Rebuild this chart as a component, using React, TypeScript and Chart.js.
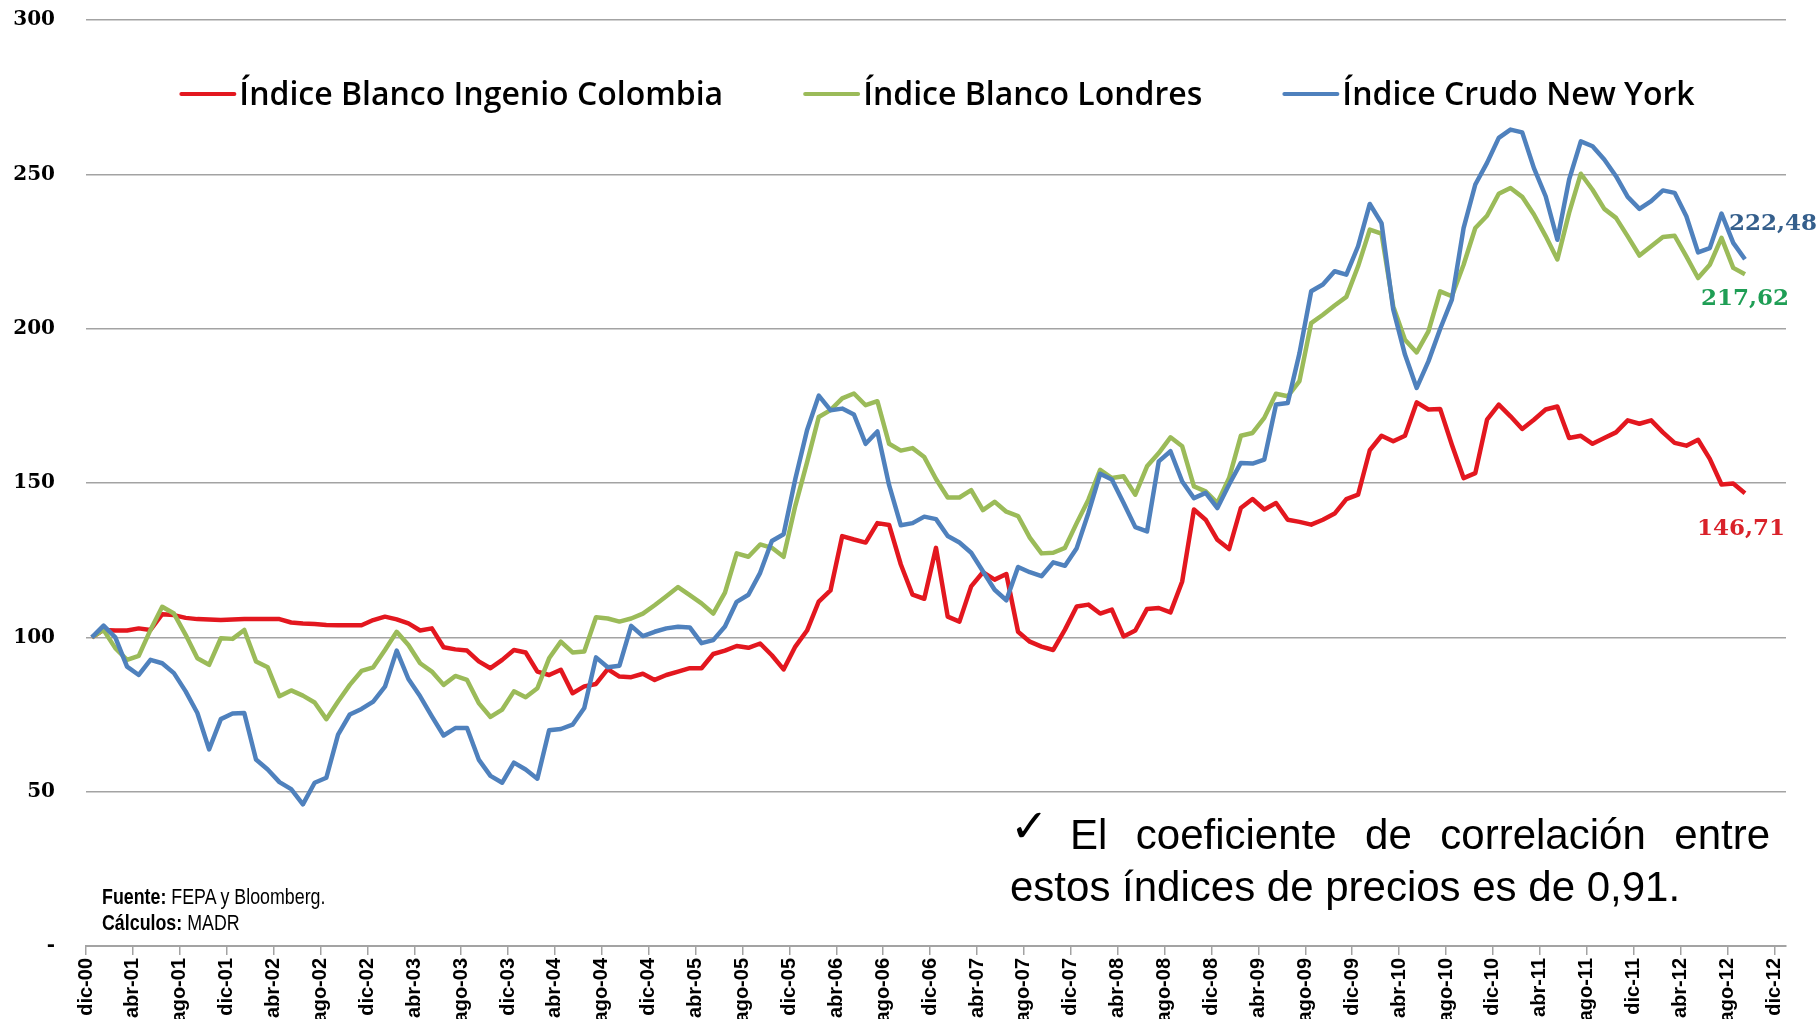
import React, { useEffect, useRef } from "react";
import { Chart, registerables } from "chart.js";

Chart.register(...registerables);

// Tick labels (every 4 months, from dic-00 to dic-12)
const tickLabels = [
  "dic-00", "abr-01", "ago-01", "dic-01", "abr-02", "ago-02", "dic-02", "abr-03", "ago-03", "dic-03",
  "abr-04", "ago-04", "dic-04", "abr-05", "ago-05", "dic-05", "abr-06", "ago-06", "dic-06", "abr-07",
  "ago-07", "dic-07", "abr-08", "ago-08", "dic-08", "abr-09", "ago-09", "dic-09", "abr-10", "ago-10",
  "dic-10", "abr-11", "ago-11", "dic-11", "abr-12", "ago-12", "dic-12",
];
const monthsPerTick = 4;

const seriesNames = [
  "Índice Blanco Ingenio Colombia",
  "Índice Blanco Londres",
  "Índice Crudo New York",
];

// Monthly values from dic-00 to sep-12
const ingenioColombia = [
  100, 102.4, 102.2, 102.2, 102.9, 102.4, 107.5, 107.2, 106.3, 105.9,
  105.8, 105.6, 105.8, 105.9, 105.9, 105.9, 105.9, 104.8, 104.5, 104.3,
  104, 103.9, 103.9, 103.9, 105.6, 106.7, 105.8, 104.5, 102.2, 102.9,
  96.8, 96.1, 95.7, 92.2, 90, 92.7, 95.9, 95.1, 88.9, 87.8,
  89.5, 81.9, 84.1, 84.9, 89.7, 87.3, 87.1, 88.2, 86.2, 87.8,
  88.9, 90, 90, 94.6, 95.7, 97.2, 96.6, 98, 94.2, 89.6,
  97, 102.2, 111.6, 115.2, 132.8, 131.7, 130.7, 137, 136.4, 123.6,
  113.8, 112.5, 129, 106.7, 105.1, 116.5, 121.1, 118.7, 120.5, 101.8,
  98.6, 97, 95.9, 102.5, 110, 110.6, 107.7, 109, 100.3, 102.2,
  109.2, 109.5, 108.1, 118.1, 141.4, 138.1, 131.6, 128.6, 141.9, 144.8,
  141.4, 143.5, 138.1, 137.4, 136.5, 138.1, 140.1, 144.8, 146.2, 160.6,
  165.3, 163.5, 165.3, 176.1, 173.8, 174, 162.4, 151.6, 153.2, 170.5,
  175.4, 171.6, 167.5, 170.5, 173.8, 174.8, 164.6, 165.3, 162.7, 164.6,
  166.4, 170.3, 169.2, 170.3, 166.4, 163, 162.1, 164, 157.8, 149.5,
  149.8, 146.71,
];

const blancoLondres = [
  100, 102.4, 96.5, 92.7, 94, 102.4, 109.9, 107.7, 100.8, 93.2,
  91.1, 99.7, 99.5, 102.4, 92.2, 90.3, 80.9, 82.8, 81.1, 78.9,
  73.5, 79.2, 84.6, 89.1, 90.3, 95.9, 101.8, 97.5, 91.6, 88.9,
  84.6, 87.5, 86.2, 78.7, 74.2, 76.6, 82.5, 80.6, 83.5, 93.2,
  98.6, 95.1, 95.4, 106.5, 106.1, 105.1, 106.1, 107.7, 110.4, 113.3,
  116.3, 113.7, 111, 107.7, 114.5, 127.2, 126.1, 130.1, 129, 126.1,
  142.6, 156.7, 171.4, 173.6, 177.4, 179, 175.2, 176.5, 162.7, 160.5,
  161.3, 158.4, 151.3, 145.3, 145.3, 147.7, 141.2, 143.9, 140.7, 139.3,
  132.3, 127.2, 127.4, 129, 137, 144.6, 154.3, 151.6, 152.2, 146.2,
  155.4, 159.7, 164.8, 161.9, 148.9, 147.3, 143.5, 151.6, 165.3, 166.2,
  171.1, 178.9, 178.1, 183, 201.8, 204.5, 207.5, 210.3, 220.2, 232.1,
  230.8, 207.2, 196.4, 192.3, 199.1, 212.1, 210.5, 220.7, 232.6, 236.6,
  243.7, 245.6, 242.7, 237, 230, 222.4, 237.5, 250.2, 245, 238.8,
  235.9, 229.9, 223.7, 226.7, 229.7, 230.1, 223.4, 216.4, 220.7, 229.4,
  219.7, 217.62,
];

const crudoNewYork = [
  100, 103.8, 100, 90.5, 87.8, 92.7, 91.6, 88.4, 82.5, 75.5,
  63.7, 73.5, 75.3, 75.5, 60.4, 57.2, 53.1, 50.8, 45.9, 52.9,
  54.5, 68.5, 75, 76.8, 79.2, 84, 95.7, 86.5, 80.9, 74.4,
  68.2, 70.6, 70.6, 60.4, 55.1, 52.9, 59.4, 57.2, 54.2, 69.9,
  70.3, 71.7, 77.1, 93.5, 90.3, 90.8, 103.7, 100.4, 101.8, 102.9,
  103.4, 103.2, 98.1, 99.1, 103.5, 111.5, 113.8, 120.9, 131.2, 133.4,
  151.3, 167.1, 178.3, 173.6, 174.1, 172.2, 162.7, 166.7, 149.3, 136.3,
  137, 139.1, 138.3, 132.8, 130.7, 127.4, 121.4, 115.4, 112, 122.8,
  121.1, 119.8, 124.3, 123.2, 128.9, 140.3, 153, 151.1, 143.5, 135.7,
  134.3, 157, 160.3, 150.5, 145.1, 146.8, 141.9, 149.5, 156.5, 156.3,
  157.6, 175.4, 175.9, 192, 212.1, 214.3, 218.6, 217.5, 226.7, 240.4,
  234.2, 206.2, 191.6, 180.8, 189.4, 199.9, 209.4, 232.6, 246.7, 253.7,
  261.8, 264.5, 263.6, 252, 242.9, 228.8, 248.3, 260.7, 259.1, 254.8,
  249.4, 242.7, 238.8, 241.3, 244.8, 244, 236.4, 224.7, 226.1, 237.3,
  227.8, 222.48,
];

const finalValueLabels = ["146,71", "217,62", "222,48"];

const yTicks = [0, 50, 100, 150, 200, 250, 300];

function toPoints(values: number[]) {
  // each month is plotted in the middle of its month interval
  return values.map((v, i) => ({ x: i + 0.5, y: v }));
}

const legendPlugin = {
  id: "insideLegend",
  afterDatasetsDraw(chart: any) {
    const { ctx, chartArea } = chart;
    ctx.save();
    ctx.font = "600 32px 'Open Sans', 'Noto Sans', sans-serif";
    const lineLen = 53;
    const gap = 5;
    const itemGap = 82;
    const items = chart.data.datasets.map((ds: any) => ({
      label: ds.label,
      color: ds.borderColor,
      w: ctx.measureText(ds.label).width,
    }));
    const total =
      items.reduce((s: number, it: any) => s + lineLen + gap + it.w, 0) +
      itemGap * (items.length - 1);
    let x = (chartArea.left + chartArea.right) / 2 - total / 2 + 2;
    const lineY = chartArea.top + 74;
    const baseY = chartArea.top + 85;
    for (const it of items) {
      ctx.strokeStyle = it.color;
      ctx.lineWidth = 4;
      ctx.lineCap = "round";
      ctx.beginPath();
      ctx.moveTo(x, lineY);
      ctx.lineTo(x + lineLen, lineY);
      ctx.stroke();
      ctx.fillStyle = "#000";
      ctx.textBaseline = "alphabetic";
      ctx.textAlign = "left";
      ctx.fillText(it.label, x + lineLen + gap, baseY);
      x += lineLen + gap + it.w + itemGap;
    }
    ctx.restore();
  },
};

const endLabelPlugin = {
  id: "endLabels",
  afterDatasetsDraw(chart: any) {
    const { ctx } = chart;
    ctx.save();
    ctx.font = "bold 23px 'DejaVu Serif', serif";
    ctx.textAlign = "left";
    ctx.textBaseline = "middle";
    chart.data.datasets.forEach((ds: any, i: number) => {
      const meta = chart.getDatasetMeta(i);
      const pt = meta.data[meta.data.length - 1];
      if (!pt || !ds.endLabel) return;
      ctx.fillStyle = ds.endLabel.color;
      ctx.fillText(ds.endLabel.text, pt.x + ds.endLabel.dx, pt.y + ds.endLabel.dy);
    });
    ctx.restore();
  },
};

export default function App() {
  const canvasRef = useRef<HTMLCanvasElement | null>(null);

  useEffect(() => {
    if (!canvasRef.current) return;
    const gridColor = "#a3a3a3";
    const chart = new Chart(canvasRef.current, {
      type: "line",
      data: {
        datasets: [
          {
            label: seriesNames[0],
            data: toPoints(ingenioColombia),
            borderColor: "#e3171f",
            borderWidth: 4.5,
            pointRadius: 0,
            tension: 0,
            borderJoinStyle: "round",
            order: 3,
            endLabel: { text: finalValueLabels[0], color: "#d9222a", dx: -48, dy: 36 },
          } as any,
          {
            label: seriesNames[1],
            data: toPoints(blancoLondres),
            borderColor: "#9bbb59",
            borderWidth: 4.5,
            pointRadius: 0,
            tension: 0,
            borderJoinStyle: "round",
            order: 2,
            endLabel: { text: finalValueLabels[1], color: "#1f9e55", dx: -44, dy: 25 },
          } as any,
          {
            label: seriesNames[2],
            data: toPoints(crudoNewYork),
            borderColor: "#4f81bd",
            borderWidth: 4.5,
            pointRadius: 0,
            tension: 0,
            borderJoinStyle: "round",
            order: 1,
            endLabel: { text: finalValueLabels[2], color: "#355f8c", dx: -16, dy: -35 },
          } as any,
        ],
      },
      options: {
        animation: false,
        responsive: false,
        devicePixelRatio: 1,
        layout: { padding: { top: 20, right: 34, left: 0, bottom: 0 } },
        plugins: {
          legend: { display: false },
          tooltip: { enabled: false },
        },
        scales: {
          x: {
            type: "linear",
            min: 0,
            max: (tickLabels.length - 1) * monthsPerTick + 1,
            afterBuildTicks: (scale: any) => {
              scale.ticks = tickLabels.map((_, k) => ({ value: k * monthsPerTick }));
            },
            afterFit: (scale: any) => {
              scale.height = 73;
            },
            ticks: {
              autoSkip: false,
              minRotation: 90,
              maxRotation: 90,
              padding: 3,
              color: "#000",
              font: { family: "'Liberation Sans', Arial, sans-serif", size: 20, weight: "bold" },
              callback: (v: any) => tickLabels[Math.round(Number(v) / monthsPerTick)] ?? "",
            },
            grid: {
              drawOnChartArea: false,
              drawTicks: true,
              tickLength: 9,
              color: gridColor,
              lineWidth: 1.5,
            },
            border: { display: true, color: gridColor, width: 2 },
          },
          y: {
            min: yTicks[0],
            max: yTicks[yTicks.length - 1],
            afterBuildTicks: (scale: any) => {
              scale.ticks = yTicks.map((v) => ({ value: v }));
            },
            afterFit: (scale: any) => {
              scale.width = 86;
            },
            ticks: {
              padding: 0,
              color: "#000",
              font: { family: "'DejaVu Serif', serif", size: 20, weight: "bold" },
              callback: (v: any) => (Number(v) === 0 ? "-" : String(v)),
            },
            grid: {
              drawTicks: true,
              tickLength: 31,
              tickColor: "rgba(0,0,0,0)",
              color: gridColor,
              lineWidth: 1.5,
            },
            border: { display: false },
          },
        },
      },
      plugins: [legendPlugin, endLabelPlugin],
    });
    return () => chart.destroy();
  }, []);

  return (
    <div
      style={{
        position: "fixed",
        left: 0,
        top: 0,
        width: 1820,
        height: 1019,
        background: "#fff",
        overflow: "hidden",
      }}
    >
      <canvas
        ref={canvasRef}
        width={1820}
        height={1019}
        style={{ position: "absolute", left: 0, top: 0, width: 1820, height: 1019 }}
      />
      <div
        style={{
          position: "absolute",
          left: 102,
          top: 884,
          fontFamily: "'Liberation Sans', Arial, sans-serif",
          fontSize: 22,
          lineHeight: "26px",
          color: "#000",
          whiteSpace: "nowrap",
          transform: "scaleX(0.81)",
          transformOrigin: "0 0",
        }}
      >
        <div>
          <b>Fuente:</b> FEPA y Bloomberg.
        </div>
        <div>
          <b>Cálculos:</b> MADR
        </div>
      </div>
      <div
        style={{
          position: "absolute",
          left: 1010,
          top: 800,
          width: 760,
          fontFamily: "'Liberation Sans', Arial, sans-serif",
          fontSize: 42,
          lineHeight: "52px",
          textAlign: "justify",
          color: "#000",
        }}
      >
        <span
          style={{
            fontFamily: "'DejaVu Sans', sans-serif",
            fontSize: 46,
            verticalAlign: 7,
            marginRight: -24,
          }}
        >
          ✓
        </span>{" "}
        El coeficiente de correlación entre estos índices de precios es de 0,91.
      </div>
    </div>
  );
}
